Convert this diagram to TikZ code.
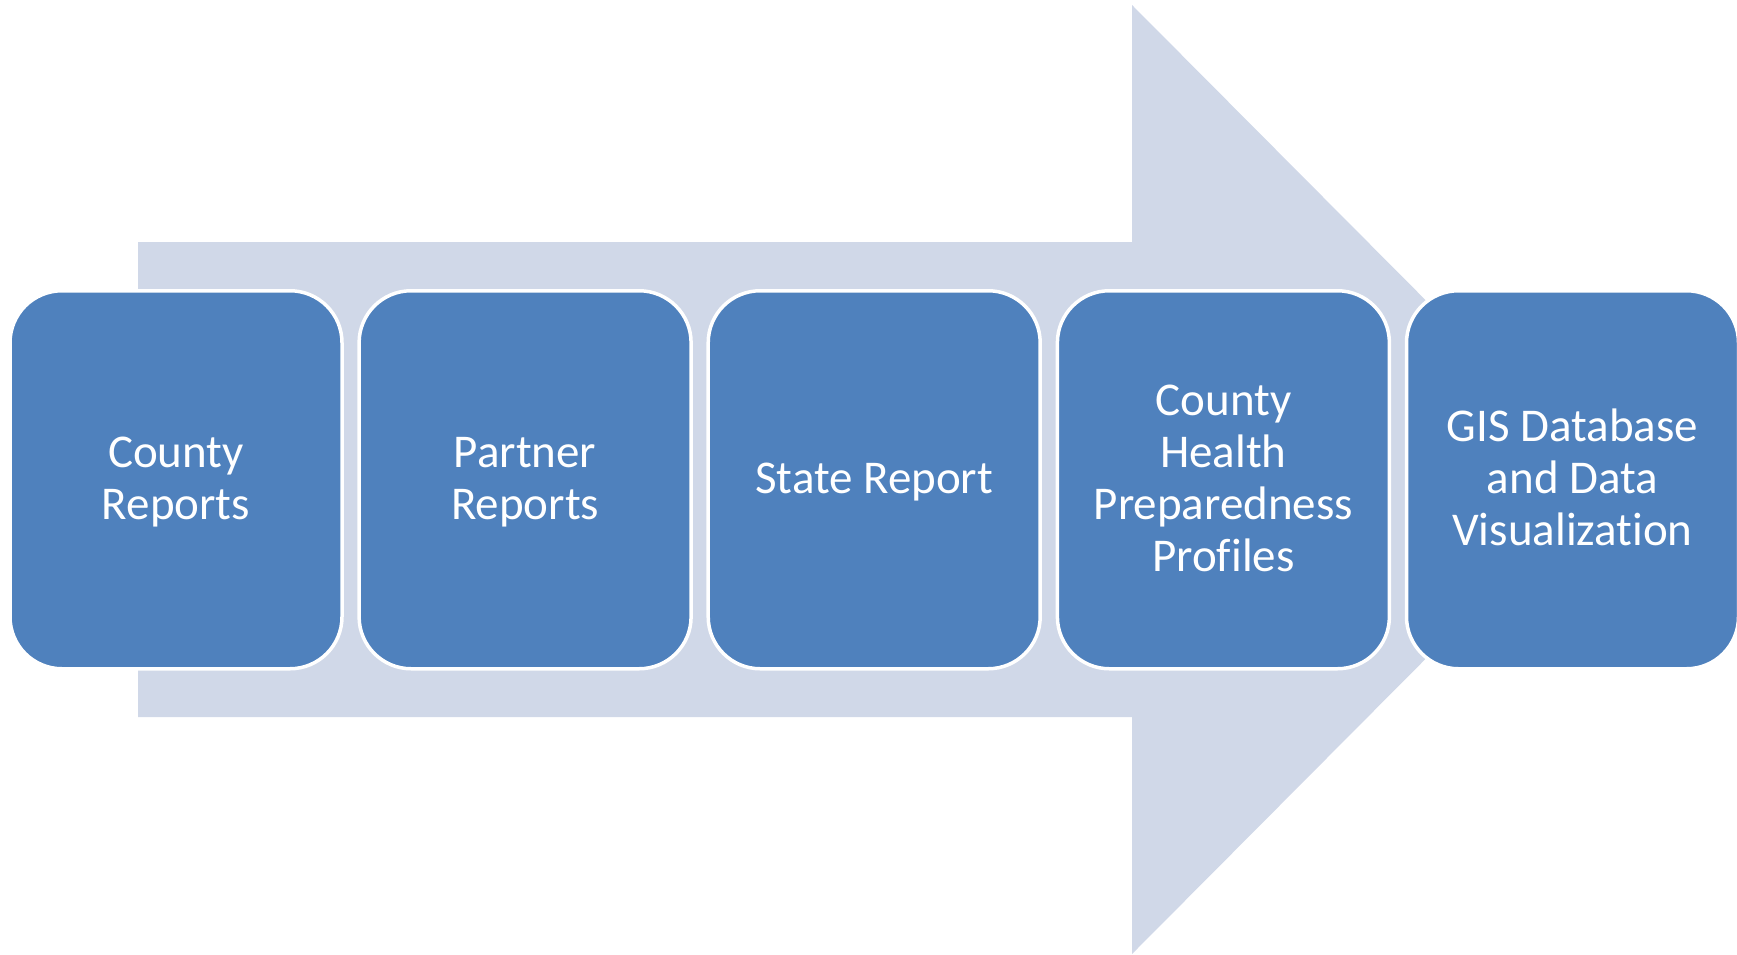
\documentclass[tikz,border=0pt]{standalone}
\usepackage{fontspec}
\setmainfont{Carlito}[Ligatures=NoCommon]
\definecolor{boxblue}{HTML}{4F81BD}
\definecolor{arrowgrey}{HTML}{D0D8E8}
\newcommand{\bstrut}{\rule[-10.5pt]{0pt}{48.5pt}}
\tikzset{
  stepbox/.style={rectangle, rounded corners=52pt, minimum width=332pt, minimum height=378pt,
    fill=boxblue, draw=white, line width=3.5pt, text=white, align=center, inner sep=0pt,
    font=\fontsize{47}{52}\selectfont},
  bigarrow/.style={fill=arrowgrey, draw=none}
}
\begin{document}
\begin{tikzpicture}[x=1pt,y=-1pt]
\useasboundingbox (0,0) rectangle (1737,954);
\fill[bigarrow] (138,242) -- (1132,242) -- (1132,5) -- (1604,479.5) -- (1132,954) -- (1132,717) -- (138,717) -- cycle;
\node[stepbox] (b1) at (176,479.75) {\bstrut County\\\bstrut Reports};
\node[stepbox] (b2) at (525.1,479.75) {\bstrut Partner\\\bstrut Reports};
\node[stepbox] (b3) at (874.2,479.75) {\bstrut State Report};
\node[stepbox] (b4) at (1223.4,479.75) {\bstrut County\\\bstrut Health\\\bstrut Preparedness\\\bstrut Profiles};
\node[stepbox] (b5) at (1572.5,479.75) {\bstrut GIS Database\\\bstrut and Data\\\bstrut Visualization};
\end{tikzpicture}
\end{document}
